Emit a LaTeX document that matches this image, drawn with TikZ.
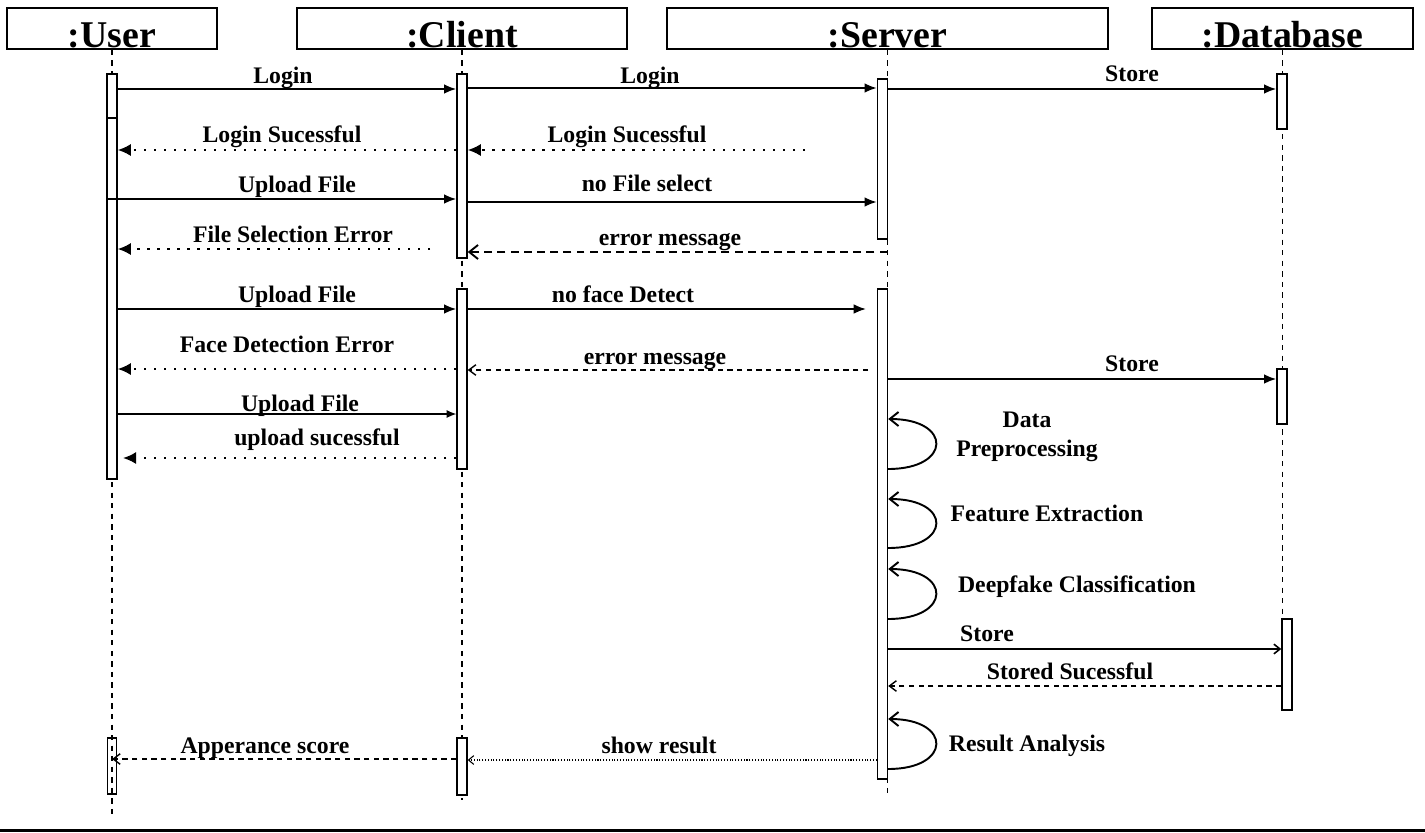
\documentclass[tikz,border=0pt]{standalone}
\usepackage{fontspec}
\setmainfont{Liberation Serif}
\usetikzlibrary{arrows.meta}

\begin{document}
\begin{tikzpicture}[x = 0.02cm, y = -0.02cm, semithick,
                    font = \fontsize{13.5}{15}\selectfont\bfseries,
                    head/.style = {draw,
                                   line width = 1pt,
                                   minimum height = 0.82cm,
                                   inner sep = 0pt},
                    title/.style = {anchor = base,
                                    inner sep = 0pt,
                                    font = \fontsize{21.5}{21.5}\selectfont\bfseries},
                    act/.style = {draw,
                                  fill = white,
                                  line width = 0.8pt,
                                  minimum width = 0.2cm,
                                  inner sep = 0pt},
                    life/.style = {line width = 0.6pt, dash pattern = on 3pt off 3pt},
                    msg/.style = {-{Latex[length = 7pt, width = 5.5pt]}, line width = 1.1pt},
                    ret/.style = {-{Latex[length = 7.5pt, width = 7pt]}, line width = 1.3pt,
                                  dash pattern = on 1.3pt off 4.4pt},
                    err/.style = {-{Straight Barb[length = 5pt, width = 8pt]}, line width = 1.1pt,
                                  dash pattern = on 4.5pt off 3pt},
                    reply/.style = {-{Straight Barb[length = 4pt, width = 6pt]}, line width = 0.8pt,
                                    dash pattern = on 3pt off 2.5pt},
                    self/.style = {-{Straight Barb[length = 5pt, width = 8pt]}, line width = 1.1pt},
                    lbl/.style = {anchor = base, inner sep = 0pt}]

\useasboundingbox (0,0) rectangle (1425,832);

% heads
\node[head, minimum width = 4.2cm]  (user)   at (112,28.5)    {};
\node[head, minimum width = 6.6cm]  (client) at (462,28.5)    {};
\node[head, minimum width = 8.82cm] (server) at (887.5,28.5)  {};
\node[head, minimum width = 5.22cm] (db)     at (1282.5,28.5) {};
\node[title] (usert)   at (112,47)    {:User};
\node[title] (clientt) at (462,47)    {:Client};
\node[title] (servert) at (887.5,47)  {:Server};
\node[title] (dbt)     at (1282.5,47) {:Database};

% lifelines
\coordinate (userend)   at (112,818);
\coordinate (clientend) at (462,800);
\coordinate (serverend) at (887.5,798);
\coordinate (dbend)     at (1282.5,619);
\draw[life] (user.south)   -- (userend);
\draw[life] (client.south) -- (clientend);
\draw[life] (server.south) -- (serverend);
\draw[life] (db.south)     -- (dbend);

% activations
\node[act, minimum height = 0.88cm] (ua1) at (112,96)    {};
\node[act, minimum height = 1.62cm] (ua2) at (112,158.5) {};
\node[act, minimum height = 5.6cm]  (ua3) at (112,339)   {};
\node[act, fill = none, minimum width = 0.18cm, minimum height = 1.12cm] (ua4) at (112,766) {};
\node[act, minimum height = 3.68cm] (ca1) at (462,166)   {};
\node[act, minimum height = 3.6cm]  (ca2) at (462,379)   {};
\node[act, minimum height = 1.14cm] (ca3) at (462,766.5) {};
\node[act, minimum height = 3.2cm]  (sa1) at (882.5,159) {};
\node[act, minimum height = 9.8cm]  (sa2) at (882.5,534) {};
\node[act, minimum height = 1.1cm]  (da1) at (1282,101.5) {};
\node[act, minimum height = 1.1cm]  (da2) at (1282,396.5) {};
\node[act, minimum height = 1.82cm] (da3) at (1287,664.5) {};

% login
\draw[msg] (ua1.east |- 0,89) -- (ca1.west |- 0,89);
\draw[msg] (ca1.east |- 0,88) -- (sa1.west |- 0,88);
\draw[msg] (sa1.east |- 0,89) -- (da1.west |- 0,89);
\node[lbl] at (283,83)  {Login};
\node[lbl] at (650,83)  {Login};
\node[lbl] at (1132,81) {Store};

\coordinate (okstart) at (805,150);
\draw[ret] (ca1.west |- 0,150) -- (ua2.east |- 0,150);
\draw[ret] (okstart) -- (ca1.east |- 0,150);
\node[lbl] at (282,142) {Login Sucessful};
\node[lbl] at (627,142) {Login Sucessful};

% no file
\draw[msg] (ua3.east |- 0,199) -- (ca1.west |- 0,199);
\draw[msg] (ca1.east |- 0,202) -- (sa1.west |- 0,202);
\node[lbl] at (297,192) {Upload File};
\node[lbl] at (647,191) {no File select};

\coordinate (selstart) at (430,249);
\draw[ret] (selstart) -- (ua3.east |- 0,249);
\draw[err] (server.south |- 0,252) -- (ca1.east |- 0,252);
\node[lbl] at (293,242) {File Selection Error};
\node[lbl] at (670,245) {error message};

% no face
\coordinate (faceend) at (866,309);
\draw[msg] (ua3.east |- 0,309) -- (ca2.west |- 0,309);
\draw[msg] (ca2.east |- 0,309) -- (faceend);
\node[lbl] at (297,302) {Upload File};
\node[lbl] at (623,302) {no face Detect};

\coordinate (facestart) at (868,370);
\draw[ret] (ca2.west |- 0,369) -- (ua3.east |- 0,369);
\draw[reply] (facestart) -- (ca2.east |- 0,370);
\node[lbl] at (287,352) {Face Detection Error};
\node[lbl] at (655,364) {error message};

\draw[msg] (sa2.east |- 0,379) -- (da2.west |- 0,379);
\node[lbl] at (1132,371) {Store};

% upload
\draw[-{Latex[length = 5.5pt, width = 4.5pt]}, line width = 0.6pt] (ua3.east |- 0,414) -- (ca2.west |- 0,414);
\draw[ret, shorten > = 3pt] (ca2.west |- 0,458) -- (ua3.east |- 0,458);
\node[lbl] at (300,411) {Upload File};
\node[lbl] at (317,445) {upload sucessful};

% server steps
\draw[self] (sa2.east |- 0,469) .. controls (952,469) and (952,419) .. (sa2.east |- 0,419);
\node[lbl] at (1027,427) {Data};
\node[lbl] at (1027,456) {Preprocessing};

\draw[self] (sa2.east |- 0,548) .. controls (952,548) and (952,499) .. (sa2.east |- 0,499);
\node[lbl] at (1047,521) {Feature Extraction};

\draw[self] (sa2.east |- 0,619) .. controls (952,619) and (952,569) .. (sa2.east |- 0,569);
\node[lbl] at (1077,592) {Deepfake Classification};

\draw[-{Straight Barb[length = 3.5pt, width = 5.5pt]}, line width = 0.9pt] (sa2.east |- 0,649) -- (da3.west |- 0,649);
\draw[reply] (da3.west |- 0,686) -- (sa2.east |- 0,686);
\node[lbl] at (987,641)  {Store};
\node[lbl] at (1070,679) {Stored Sucessful};

\draw[self] (sa2.east |- 0,769) .. controls (952,769) and (952,719) .. (sa2.east |- 0,719);
\node[lbl] at (1027,751) {Result Analysis};

% result
\draw[-{Straight Barb[length = 3pt, width = 5pt]}, line width = 0.6pt, densely dotted]
  (sa2.west |- 0,760) -- (ca3.east |- 0,760);
\draw[reply] (ca3.west |- 0,759) -- (ua4.center |- 0,759);
\node[lbl] at (659,753) {show result};
\node[lbl] at (265,753) {Apperance score};

\draw[line width = 1.7pt] (0,830) -- (1425,830);

\end{tikzpicture}
\end{document}
